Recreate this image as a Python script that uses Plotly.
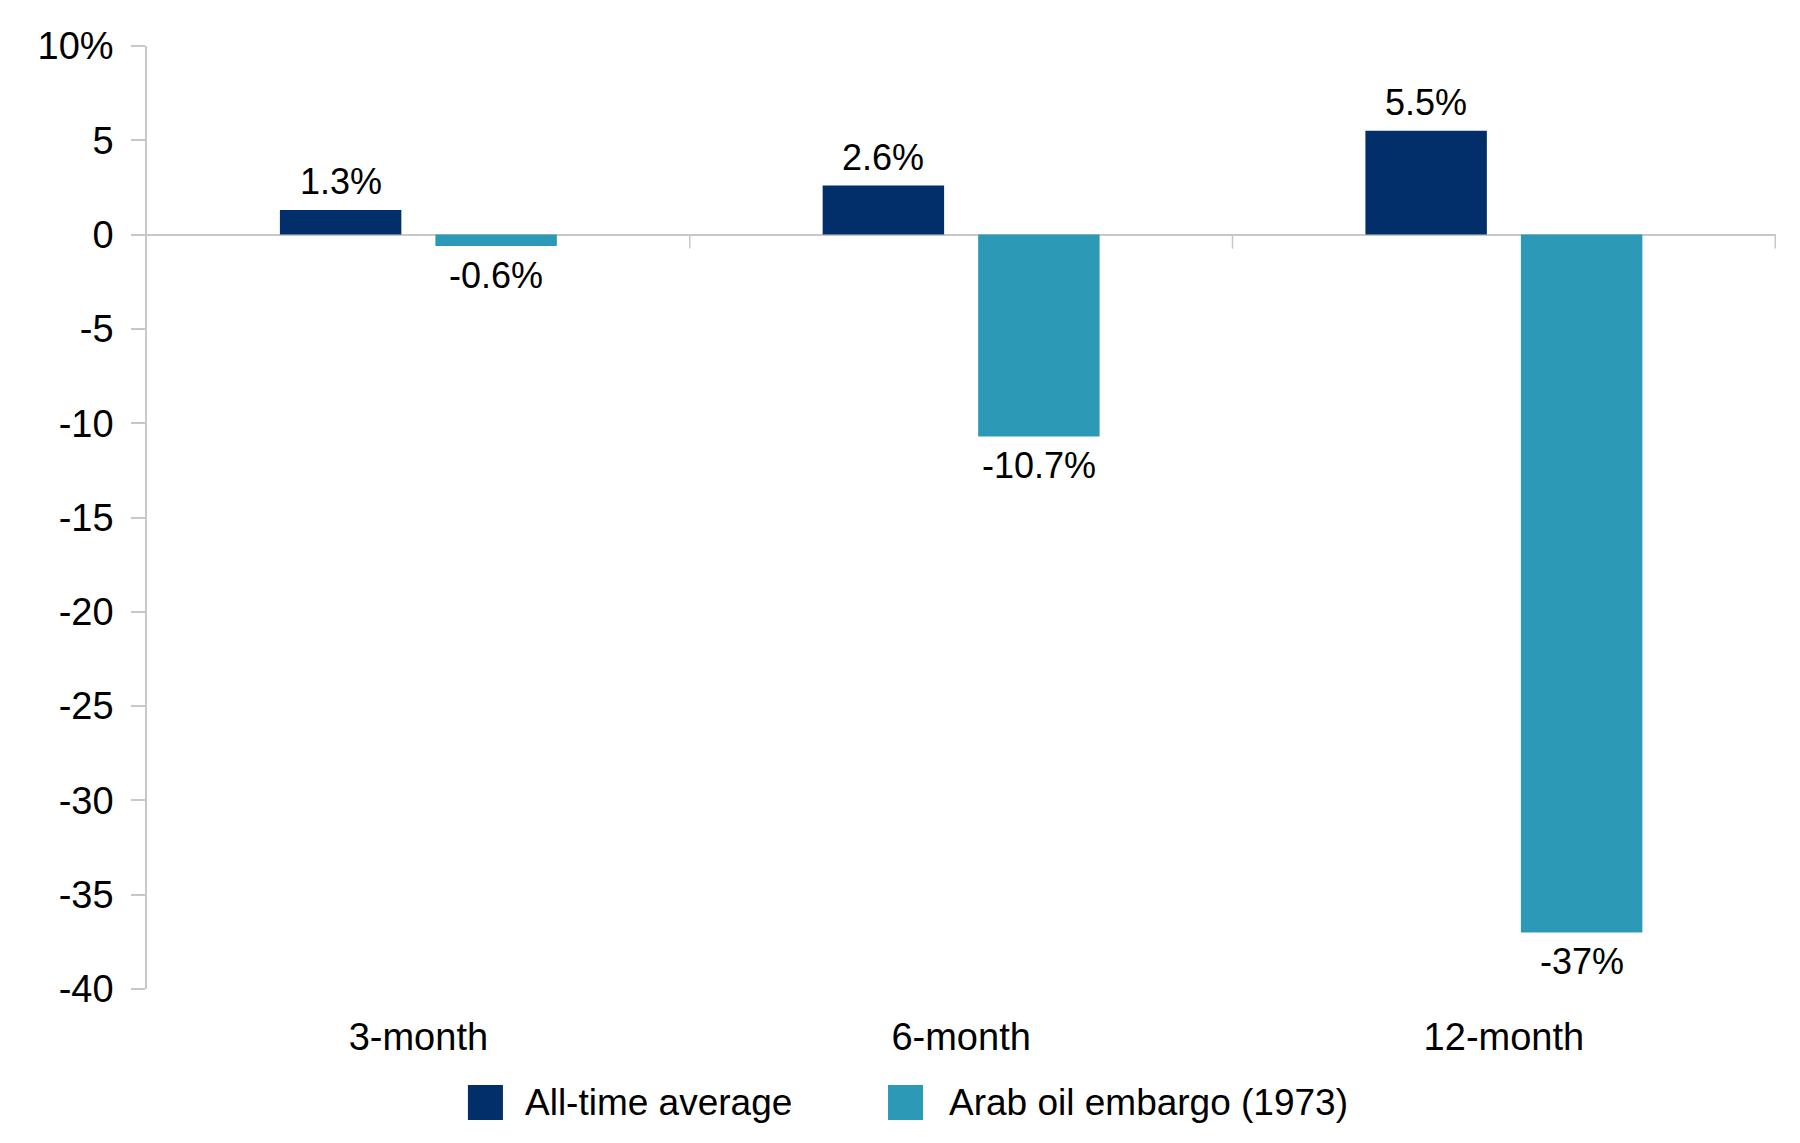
import plotly.graph_objects as go

categories = ["3-month", "6-month", "12-month"]
all_time_avg = [1.3, 2.6, 5.5]
arab_embargo = [-0.6, -10.7, -37]
avg_labels = ["1.3%", "2.6%", "5.5%"]
embargo_labels = ["-0.6%", "-10.7%", "-37%"]
series_names = ["All-time average", "Arab oil embargo (1973)"]
y_tickvals = [10, 5, 0, -5, -10, -15, -20, -25, -30, -35, -40]
y_ticktext = ["10%", "5", "0", "-5", "-10", "-15", "-20", "-25", "-30", "-35", "-40"]

NAVY = "#022F6A"
TEAL = "#2C9AB7"
GRID = "#C8C8C8"
FONT = "Liberation Sans, Arial, sans-serif"
BARGAP = 0.427
BARGROUPGAP = 0.219

fig = go.Figure()
fig.add_trace(go.Bar(
    x=categories, y=all_time_avg, name=series_names[0],
    marker=dict(color=NAVY, line=dict(width=0)),
))
fig.add_trace(go.Bar(
    x=categories, y=arab_embargo, name=series_names[1],
    marker=dict(color=TEAL, line=dict(width=0)),
))

annotations = []
# value labels, positioned at the centre of each grouped bar
half_offset = (1 - BARGAP) / 4
for series, labels, sign in ((all_time_avg, avg_labels, -1), (arab_embargo, embargo_labels, 1)):
    for i, (v, lab) in enumerate(zip(series, labels)):
        annotations.append(dict(
            xref="x", yref="y", x=i + sign * half_offset, y=v,
            text=lab, showarrow=False,
            yanchor="bottom" if v >= 0 else "top",
            yshift=6 if v >= 0 else -7,
            font=dict(family=FONT, size=36, color="black"),
        ))

# tick marks at category boundaries on the zero line
shapes = []
for i in range(len(categories)):
    shapes.append(dict(
        type="line", xref="x", yref="y", x0=i + 0.5, x1=i + 0.5,
        ysizemode="pixel", yanchor=0, y0=0, y1=-14,
        line=dict(color=GRID, width=1.5),
    ))

# manual legend (large square swatches)
legend_items = [
    (series_names[0], NAVY, 0.1970, 0.2306),
    (series_names[1], TEAL, 0.4549, 0.4909),
]
for name, color, sx, tx in legend_items:
    shapes.append(dict(
        type="rect", xref="paper", yref="paper",
        x0=sx, x1=sx + 0.0215, y0=-0.1389, y1=-0.1018,
        fillcolor=color, line=dict(width=0),
    ))
    annotations.append(dict(
        xref="paper", yref="paper", x=tx, y=-0.1205,
        xanchor="left", yanchor="middle", showarrow=False,
        text=name, font=dict(family=FONT, size=37, color="black"),
    ))

fig.update_layout(
    width=1800, height=1143,
    margin=dict(l=147, r=24, t=46, b=154),
    paper_bgcolor="white", plot_bgcolor="white",
    barmode="group", bargap=BARGAP, bargroupgap=BARGROUPGAP,
    showlegend=False,
    font=dict(family=FONT, color="black"),
    shapes=shapes, annotations=annotations,
    xaxis=dict(
        showline=False, showgrid=False, zeroline=False, ticks="",
        tickfont=dict(family=FONT, size=38, color="black"),
        ticklabelstandoff=22,
    ),
    yaxis=dict(
        range=[-40, 10], tickvals=y_tickvals, ticktext=y_ticktext,
        showgrid=False, showline=True, linecolor=GRID, linewidth=1.5,
        ticks="outside", ticklen=14, tickcolor=GRID, tickwidth=1.5,
        zeroline=True, zerolinecolor=GRID, zerolinewidth=1.5,
        tickfont=dict(family=FONT, size=38, color="black"),
        ticklabelstandoff=10,
    ),
)

fig.write_html("out.html")
